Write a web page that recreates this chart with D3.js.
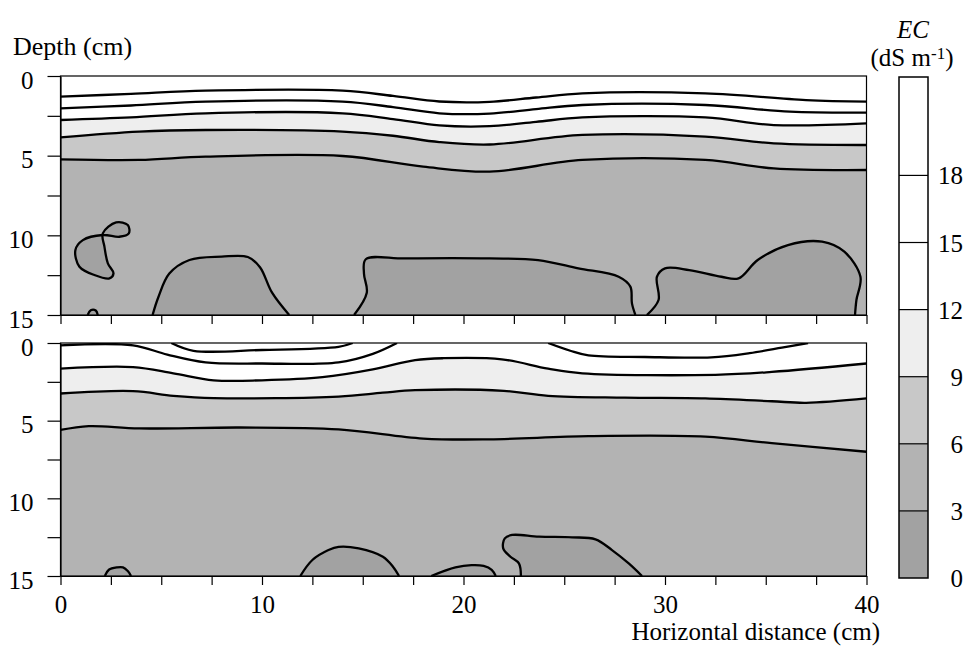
<!DOCTYPE html>
<html>
<head>
<meta charset="utf-8">
<script src="https://cdn.jsdelivr.net/npm/d3@7"></script>
<style>
  body { margin: 0; background: #fff; }
</style>
</head>
<body>
<div id="chart"></div>
<script>
const FONT = "'Liberation Serif', 'Times New Roman', Times, 'DejaVu Serif', serif";

// EC class limits (dS m-1) and the grey used for each band
const levels = [0, 3, 6, 9, 12, 15, 18];
const bandColors = ["#a2a2a2", "#b3b3b3", "#c8c8c8", "#eeeeee", "#ffffff", "#ffffff", "#ffffff"];
const colorbarMax = 22.4;

const xTickValues = [0, 2.5, 5, 7.5, 10, 12.5, 15, 17.5, 20, 22.5, 25, 27.5, 30, 32.5, 35, 37.5, 40];
const xTickLabels = [0, 10, 20, 30, 40];
const depthTickValues = [0, 2.5, 5, 7.5, 10, 12.5, 15];
const depthTickLabels = [0, 5, 10, 15];

// ---- upper profile: contour lines as [distance cm, depth cm]
const top18 = [[0,1.30],[3.5,1.12],[7.2,0.92],[14,0.92],[16.5,1.25],[18.8,1.60],[21.3,1.62],[23.6,1.35],[25.9,1.09],[32,1.09],[37,1.51],[40,1.61]];
const top15 = [[0,2.03],[3.5,1.85],[7.2,1.61],[14,1.61],[16.5,1.95],[18.8,2.34],[21.3,2.36],[23.6,2.08],[25.9,1.82],[32,1.82],[36.2,2.24],[40,2.30]];
const top12 = [[0,2.76],[3.5,2.60],[7.2,2.34],[14,2.34],[16.5,2.70],[18.8,3.10],[21.3,3.15],[23.6,2.88],[25.9,2.60],[32,2.60],[35.4,3.08],[40,2.97]];
const top9  = [[0,3.85],[3.9,3.49],[7.2,3.39],[14,3.49],[16.5,3.75],[18.8,4.15],[21.3,4.30],[25.9,3.70],[32,3.80],[35.4,4.23],[40,4.33]];
const top6  = [[0,5.23],[3.9,5.27],[7.2,5.06],[14,5.02],[18,5.69],[21.3,6.00],[25.9,5.27],[32,5.27],[35.4,5.80],[40,5.90]];
const topLoop = [[2.10,9.88],[2.76,9.19],[3.34,9.35],[3.39,9.88],[2.92,10.09],[2.10,9.98],[1.11,10.30],[0.74,10.92],[0.94,11.97],[1.68,12.49],[2.43,12.70],[2.63,12.39],[2.35,11.76],[2.18,10.71]];
const topBlobA = [[1.35,15],[1.50,14.70],[1.75,14.72],[1.85,15]];
const topBlobB = [[4.57,15],[4.85,13.90],[5.40,12.40],[6.40,11.55],[8.00,11.34],[9.30,11.36],[9.90,12.00],[10.50,13.60],[11.35,15]];
const topBlobC = [[14.57,15],[15.20,13.60],[15.06,12.40],[15.15,11.50],[17.10,11.45],[21.30,11.45],[23.70,11.55],[25.70,12.07],[27.70,12.60],[28.28,13.22],[28.36,14.27],[28.53,15]];
const topBlobD = [[29.10,15],[29.68,14.06],[29.60,12.60],[30.00,12.07],[31.20,12.18],[32.80,12.60],[33.65,12.70],[34.60,11.55],[36.10,10.61],[37.80,10.40],[38.90,11.03],[39.70,12.60],[39.50,14.06],[39.43,15]];

// ---- lower profile
const bot18  = [[5.5,0],[6.6,0.50],[10,0.45],[13.8,0.25],[14.5,0]];
const bot15a = [[0,0.15],[3.6,0.15],[5.3,0.75],[7.2,1.25],[10,1.32],[13.8,1.25],[15.5,0.70],[16.7,0]];
const bot15b = [[24.2,0],[25.3,0.50],[26.2,0.80],[29,0.90],[32.3,0.92],[34.2,0.65],[35.8,0.30],[37.1,0]];
const bot12  = [[0,1.65],[3.6,1.55],[5.6,1.95],[7.6,2.40],[10,2.40],[13,2.20],[15.5,1.70],[17.6,1.10],[19,0.98],[21.9,1.05],[24.2,1.65],[25.9,1.95],[32.5,2.05],[35.3,1.86],[40,1.32]];
const bot9   = [[0,3.25],[3.6,3.10],[5.6,3.40],[7.6,3.55],[13.8,3.45],[16,3.20],[17.6,3.04],[22,3.08],[24.2,3.40],[28,3.52],[32,3.57],[35.3,3.75],[37,3.85],[40,3.57]];
const bot6   = [[0,5.60],[1.4,5.35],[3.9,5.50],[8.9,5.44],[13.8,5.56],[18,6.15],[21.3,6.20],[26.2,6.00],[32,6.03],[35.3,6.45],[40,7.00]];
const botBlobA = [[2.2,15],[2.4,14.6],[2.8,14.45],[3.1,14.45],[3.35,14.7],[3.5,15]];
const botBlobB = [[11.9,15],[12.5,13.97],[13.3,13.33],[13.8,13.12],[14.8,13.22],[16.0,13.76],[16.5,14.40],[16.8,15]];
const botBlobC = [[18.4,15],[19.6,14.45],[20.4,14.30],[21.0,14.35],[21.4,14.60],[21.6,15]];
const botBlobD = [[22.85,15],[22.75,14.19],[22.33,13.76],[21.97,13.22],[22.05,12.58],[22.41,12.36],[23.74,12.47],[25.39,12.51],[26.55,12.64],[27.37,13.33],[28.2,14.19],[28.86,15]];

const width = 967, height = 649;

const svg = d3.select("#chart").append("svg")
    .attr("width", width)
    .attr("height", height)
    .attr("font-family", FONT);

const x = d3.scaleLinear().domain([0, 40]).range([60.5, 866.5]);

function drawPanel(id, yRange, bands, surfacePieces, blobs, loops, showXLabels) {
    const y = d3.scaleLinear().domain([0, 15]).range(yRange);
    const g = svg.append("g");

    g.append("clipPath").attr("id", id)
        .append("rect")
        .attr("x", x(0)).attr("y", y(0))
        .attr("width", x(40) - x(0)).attr("height", y(15) - y(0));

    const line = d3.line()
        .x(d => x(d[0])).y(d => y(d[1]))
        .curve(d3.curveCatmullRom.alpha(0.5));
    const loopLine = d3.line()
        .x(d => x(d[0])).y(d => y(d[1]))
        .curve(d3.curveCatmullRomClosed.alpha(0.5));

    const plot = g.append("g").attr("clip-path", `url(#${id})`);

    // deepest class fills the whole section
    plot.append("rect")
        .attr("x", x(0)).attr("y", y(0))
        .attr("width", x(40) - x(0)).attr("height", y(15) - y(0))
        .attr("fill", bandColors[1]);

    // low EC pockets (0-3)
    plot.selectAll(".blob-fill").data(blobs).enter()
        .append("path")
        .attr("d", d => line(d) + "Z")
        .attr("fill", bandColors[0]);
    plot.selectAll(".loop-fill").data(loops).enter()
        .append("path")
        .attr("d", d => loopLine(d))
        .attr("fill", bandColors[0]);

    // surface bands, painted from deep to shallow
    plot.selectAll(".band").data(bands).enter()
        .append("path")
        .attr("d", d => line(d.pts) + `L${x(40)},${y(0)}L${x(0)},${y(0)}Z`)
        .attr("fill", d => bandColors[d.band]);

    plot.selectAll(".piece").data(surfacePieces).enter()
        .append("path")
        .attr("d", d => line(d) + `L${x(0)},${y(0)}Z`)
        .attr("fill", "#fff");

    // contour lines
    const allLines = bands.map(d => d.pts).concat(surfacePieces, blobs);
    plot.selectAll(".contour").data(allLines).enter()
        .append("path")
        .attr("d", d => line(d))
        .attr("fill", "none")
        .attr("stroke", "#000")
        .attr("stroke-width", 2.3);
    plot.selectAll(".contour-loop").data(loops).enter()
        .append("path")
        .attr("d", d => loopLine(d))
        .attr("fill", "none")
        .attr("stroke", "#000")
        .attr("stroke-width", 2.3);

    // frame
    g.append("rect")
        .attr("x", x(0)).attr("y", y(0))
        .attr("width", x(40) - x(0)).attr("height", y(15) - y(0))
        .attr("fill", "none")
        .attr("stroke", "#000")
        .attr("stroke-width", 1.2);

    // axes
    const xAxis = g.append("g")
        .attr("transform", `translate(0,${y(15)})`)
        .call(d3.axisBottom(x)
            .tickValues(xTickValues)
            .tickSize(9)
            .tickSizeOuter(0)
            .tickPadding(10)
            .tickFormat(d => showXLabels && xTickLabels.includes(d) ? d : ""));

    const yAxis = g.append("g")
        .attr("transform", `translate(${x(0)},0)`)
        .call(d3.axisLeft(y)
            .tickValues(depthTickValues)
            .tickSize(13)
            .tickSizeOuter(0)
            .tickPadding(14)
            .tickFormat(d => depthTickLabels.includes(d) ? d : ""));

    [xAxis, yAxis].forEach(a => {
        a.attr("font-family", FONT).attr("font-size", 25);
        a.selectAll("path, line").attr("stroke", "#000").attr("stroke-width", 1.2);
        a.selectAll("text").attr("fill", "#000");
    });
    yAxis.selectAll("text").attr("dy", "0.48em");
    xAxis.selectAll("text").attr("dy", "0.71em");
}

drawPanel("clipTop", [76, 315],
    [{ pts: top6, band: 2 }, { pts: top9, band: 3 }, { pts: top12, band: 4 },
     { pts: top15, band: 5 }, { pts: top18, band: 6 }],
    [], [topBlobA, topBlobB, topBlobC, topBlobD], [topLoop], false);

drawPanel("clipBot", [343, 576],
    [{ pts: bot6, band: 2 }, { pts: bot9, band: 3 }, { pts: bot12, band: 4 }],
    [bot15a, bot15b, bot18], [botBlobA, botBlobB, botBlobC, botBlobD], [], true);

// Labels
svg.append("text")
    .attr("x", 13).attr("y", 55)
    .attr("font-size", 26)
    .text("Depth (cm)");

svg.append("text")
    .attr("x", 880).attr("y", 640)
    .attr("text-anchor", "end")
    .attr("font-size", 25)
    .text("Horizontal distance (cm)");

// Colour bar
const cb = d3.scaleLinear().domain([0, colorbarMax]).range([578, 77]);
const cbX = 899, cbW = 29;
const cbg = svg.append("g");

cbg.selectAll(".cb-band").data(levels).enter()
    .append("rect")
    .attr("x", cbX)
    .attr("y", (d, i) => cb(i < levels.length - 1 ? levels[i + 1] : colorbarMax))
    .attr("width", cbW)
    .attr("height", (d, i) => cb(d) - cb(i < levels.length - 1 ? levels[i + 1] : colorbarMax))
    .attr("fill", (d, i) => bandColors[i]);

cbg.selectAll(".cb-line").data(levels.slice(1)).enter()
    .append("line")
    .attr("x1", cbX).attr("x2", cbX + cbW)
    .attr("y1", d => cb(d)).attr("y2", d => cb(d))
    .attr("stroke", "#000").attr("stroke-width", 1.2);

cbg.append("rect")
    .attr("x", cbX).attr("y", cb(colorbarMax))
    .attr("width", cbW).attr("height", cb(0) - cb(colorbarMax))
    .attr("fill", "none").attr("stroke", "#000").attr("stroke-width", 1.5);

cbg.selectAll(".cb-label").data(levels).enter()
    .append("text")
    .attr("x", 963)
    .attr("y", d => cb(d) + 9)
    .attr("text-anchor", "end")
    .attr("font-size", 25)
    .text(d => d);

svg.append("text")
    .attr("x", 913).attr("y", 38)
    .attr("text-anchor", "middle")
    .attr("font-size", 25)
    .attr("font-style", "italic")
    .text("EC");

const unit = svg.append("text")
    .attr("x", 912).attr("y", 66)
    .attr("text-anchor", "middle")
    .attr("font-size", 25);
unit.append("tspan").text("(dS m");
unit.append("tspan").attr("dy", -7).attr("font-size", 17).text("-1");
unit.append("tspan").attr("dy", 7).text(")");
</script>
</body>
</html>
